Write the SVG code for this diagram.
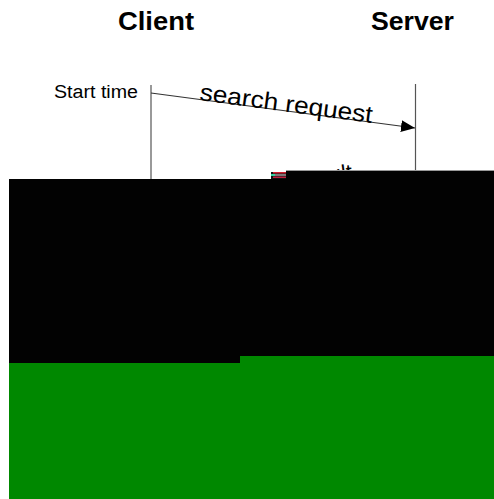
<svg xmlns="http://www.w3.org/2000/svg" width="494" height="499" viewBox="0 0 494 499">
<style>
.hdr{font-family:"Liberation Sans",Arial,sans-serif;font-weight:bold;font-size:25px;fill:#000}
.lbl{font-family:"Liberation Sans",Arial,sans-serif;fill:#000}
.life{stroke:#555;stroke-width:1.2;fill:none}
.msg{stroke:#333;stroke-width:1.2;fill:none}
</style>
<defs>
<marker id="ah" viewBox="0 0 14 12" refX="14" refY="6" markerWidth="14" markerHeight="12" markerUnits="userSpaceOnUse" orient="auto">
<path d="M0,0 L14,6 L0,12 Z" fill="#000"/>
</marker>
</defs>
<rect width="494" height="499" fill="#fff"/>
<g id="client">
<text class="hdr" x="118" y="30" textLength="76" lengthAdjust="spacingAndGlyphs">Client</text>
<line class="life" x1="151" y1="85" x2="151" y2="180"/>
</g>
<g id="server">
<text class="hdr" x="371" y="30" textLength="83" lengthAdjust="spacingAndGlyphs">Server</text>
<line class="life" x1="415.5" y1="84" x2="415.5" y2="172"/>
</g>
<g id="start-time">
<text class="lbl" x="54" y="98" font-size="18" textLength="84" lengthAdjust="spacingAndGlyphs">Start time</text>
</g>
<g id="connectors">
<line class="msg" x1="151" y1="93" x2="415" y2="128" marker-end="url(#ah)"/>
<text class="lbl" x="199" y="100" font-size="24" textLength="174" lengthAdjust="spacingAndGlyphs" transform="rotate(7.6 199 100)">search request</text>
<text class="lbl" x="330" y="182" font-size="22" transform="rotate(-7.6 330 182)">ult</text>
</g>
<g id="glitch">
<path d="M9,179 H286 V171 H494 V356 H240 V363 H9 Z" fill="#020202"/>
<line x1="286" y1="170.5" x2="494" y2="170.5" stroke="#999" stroke-width="1"/>
<rect x="271" y="172" width="15" height="7" fill="#111"/>
<rect x="273" y="172" width="13" height="1.5" fill="#d02030"/>
<rect x="271" y="174" width="4" height="2" fill="#30d0a0"/>
<rect x="275" y="174.5" width="11" height="1" fill="#e0e0e0"/>
<rect x="273" y="176.5" width="13" height="1.5" fill="#c02040"/>
<rect x="9" y="363" width="231" height="136" fill="#008800"/>
<rect x="240" y="356" width="254" height="143" fill="#008800"/>
</g>
</svg>
